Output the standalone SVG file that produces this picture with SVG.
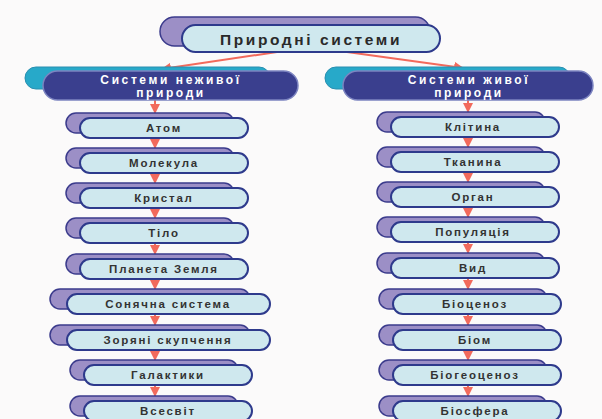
<svg xmlns="http://www.w3.org/2000/svg" width="602" height="419" viewBox="0 0 602 419">
<defs>
<style>
.bg{fill:#fbfafa}
.back{fill:#9c8fc6;stroke:#3b3b8c;stroke-width:1.5}
.front{fill:#cfe8ee;stroke:#2e3a8c;stroke-width:2}
.hback{fill:#27a9c9;stroke:#2a8fb0;stroke-width:1}
.hfront{fill:#3a3f8e;stroke:#7c84c0;stroke-width:1.5}
.t{font-family:"Liberation Sans",Arial,sans-serif;font-weight:bold;font-size:11.5px;letter-spacing:1.8px;fill:#333;text-anchor:middle;dominant-baseline:central}
.ht{font-family:"Liberation Sans",Arial,sans-serif;font-weight:bold;font-size:12px;letter-spacing:2.6px;fill:#fff;text-anchor:middle}
.tt{font-family:"Liberation Sans",Arial,sans-serif;font-weight:bold;font-size:15.5px;letter-spacing:2.6px;fill:#2a2a2a;text-anchor:middle;dominant-baseline:central}
.c{stroke:#f26a5c;stroke-width:2;fill:none;marker-end:url(#ah)}
</style>
<marker id="ah" viewBox="0 0 10 10" refX="9" refY="5" markerWidth="5" markerHeight="5.5" orient="auto" markerUnits="strokeWidth">
<path d="M0,0 L10,5 L0,10 Z" fill="#f26a5c"/>
</marker>
</defs>
<rect class="bg" width="602" height="419"/>
<g id="connectors">
<line class="c" x1="277" y1="52" x2="162" y2="69"/>
<line class="c" x1="347" y1="52" x2="463" y2="68"/>
<line class="c" x1="155" y1="100" x2="155" y2="113"/>
<line class="c" x1="155" y1="138" x2="155" y2="148"/>
<line class="c" x1="155" y1="173" x2="155" y2="183"/>
<line class="c" x1="155" y1="208" x2="155" y2="218"/>
<line class="c" x1="155" y1="243" x2="155" y2="254"/>
<line class="c" x1="155" y1="279" x2="155" y2="289"/>
<line class="c" x1="155" y1="314" x2="155" y2="325"/>
<line class="c" x1="155" y1="350" x2="155" y2="360"/>
<line class="c" x1="155" y1="385" x2="155" y2="396"/>
<line class="c" x1="468" y1="100" x2="468" y2="112"/>
<line class="c" x1="468" y1="137" x2="468" y2="147"/>
<line class="c" x1="468" y1="172" x2="468" y2="182"/>
<line class="c" x1="468" y1="207" x2="468" y2="217"/>
<line class="c" x1="468" y1="242" x2="468" y2="253"/>
<line class="c" x1="468" y1="278" x2="468" y2="289"/>
<line class="c" x1="468" y1="314" x2="468" y2="325"/>
<line class="c" x1="468" y1="350" x2="468" y2="360"/>
<line class="c" x1="468" y1="385" x2="468" y2="396"/>
</g>
<g id="n-root">
<rect class="back" x="160" y="17" width="270" height="29" rx="14.5"/>
<rect class="front" x="182" y="25" width="258" height="27" rx="13.5"/>
<text class="tt" x="311" y="39">Природні системи</text>
</g>
<g id="n-nonliving">
<rect class="hback" x="25" y="67" width="245" height="22" rx="11"/>
<rect class="hfront" x="43" y="71" width="255" height="29" rx="14.5"/>
<text class="ht" x="171" y="83.5">Системи неживої</text>
<text class="ht" x="171" y="96.5">природи</text>
</g>
<g id="n-living">
<rect class="hback" x="325" y="67" width="245" height="22" rx="11"/>
<rect class="hfront" x="343" y="71" width="250" height="29" rx="14.5"/>
<text class="ht" x="469" y="83.5">Системи живої</text>
<text class="ht" x="469" y="96.5">природи</text>
</g>
<g id="n-atom"><rect class="back" x="66" y="113" width="168" height="20" rx="10"/><rect class="front" x="80" y="118" width="168" height="20" rx="10"/><text class="t" x="164" y="128">Атом</text></g>
<g id="n-molecule"><rect class="back" x="66" y="148" width="168" height="20" rx="10"/><rect class="front" x="80" y="153" width="168" height="20" rx="10"/><text class="t" x="164" y="163">Молекула</text></g>
<g id="n-crystal"><rect class="back" x="66" y="183" width="168" height="20" rx="10"/><rect class="front" x="80" y="188" width="168" height="20" rx="10"/><text class="t" x="164" y="198">Кристал</text></g>
<g id="n-body"><rect class="back" x="66" y="218" width="168" height="20" rx="10"/><rect class="front" x="80" y="223" width="168" height="20" rx="10"/><text class="t" x="164" y="233">Тіло</text></g>
<g id="n-earth"><rect class="back" x="66" y="254" width="168" height="20" rx="10"/><rect class="front" x="80" y="259" width="168" height="20" rx="10"/><text class="t" x="164" y="269">Планета Земля</text></g>
<g id="n-solar"><rect class="back" x="50" y="289" width="200" height="20" rx="10"/><rect class="front" x="67" y="294" width="203" height="20" rx="10"/><text class="t" x="168" y="304">Сонячна система</text></g>
<g id="n-clusters"><rect class="back" x="50" y="325" width="200" height="20" rx="10"/><rect class="front" x="67" y="330" width="203" height="20" rx="10"/><text class="t" x="168" y="340">Зоряні скупчення</text></g>
<g id="n-galaxies"><rect class="back" x="70" y="360" width="168" height="20" rx="10"/><rect class="front" x="84" y="365" width="168" height="20" rx="10"/><text class="t" x="168" y="375">Галактики</text></g>
<g id="n-universe"><rect class="back" x="70" y="396" width="168" height="20" rx="10"/><rect class="front" x="84" y="401" width="168" height="20" rx="10"/><text class="t" x="168" y="411">Всесвіт</text></g>
<g id="n-cell"><rect class="back" x="377" y="112" width="168" height="20" rx="10"/><rect class="front" x="391" y="117" width="168" height="20" rx="10"/><text class="t" x="473" y="127">Клітина</text></g>
<g id="n-tissue"><rect class="back" x="377" y="147" width="168" height="20" rx="10"/><rect class="front" x="391" y="152" width="168" height="20" rx="10"/><text class="t" x="473" y="162">Тканина</text></g>
<g id="n-organ"><rect class="back" x="377" y="182" width="168" height="20" rx="10"/><rect class="front" x="391" y="187" width="168" height="20" rx="10"/><text class="t" x="473" y="197">Орган</text></g>
<g id="n-population"><rect class="back" x="377" y="217" width="168" height="20" rx="10"/><rect class="front" x="391" y="222" width="168" height="20" rx="10"/><text class="t" x="473" y="232">Популяція</text></g>
<g id="n-species"><rect class="back" x="377" y="253" width="168" height="20" rx="10"/><rect class="front" x="391" y="258" width="168" height="20" rx="10"/><text class="t" x="473" y="268">Вид</text></g>
<g id="n-biocenosis"><rect class="back" x="379" y="289" width="168" height="20" rx="10"/><rect class="front" x="393" y="294" width="168" height="20" rx="10"/><text class="t" x="475" y="304">Біоценоз</text></g>
<g id="n-biome"><rect class="back" x="379" y="325" width="168" height="20" rx="10"/><rect class="front" x="393" y="330" width="168" height="20" rx="10"/><text class="t" x="475" y="340">Біом</text></g>
<g id="n-biogeocenosis"><rect class="back" x="379" y="360" width="168" height="20" rx="10"/><rect class="front" x="393" y="365" width="168" height="20" rx="10"/><text class="t" x="475" y="375">Біогеоценоз</text></g>
<g id="n-biosphere"><rect class="back" x="379" y="396" width="168" height="20" rx="10"/><rect class="front" x="393" y="401" width="168" height="20" rx="10"/><text class="t" x="475" y="411">Біосфера</text></g>
</svg>
